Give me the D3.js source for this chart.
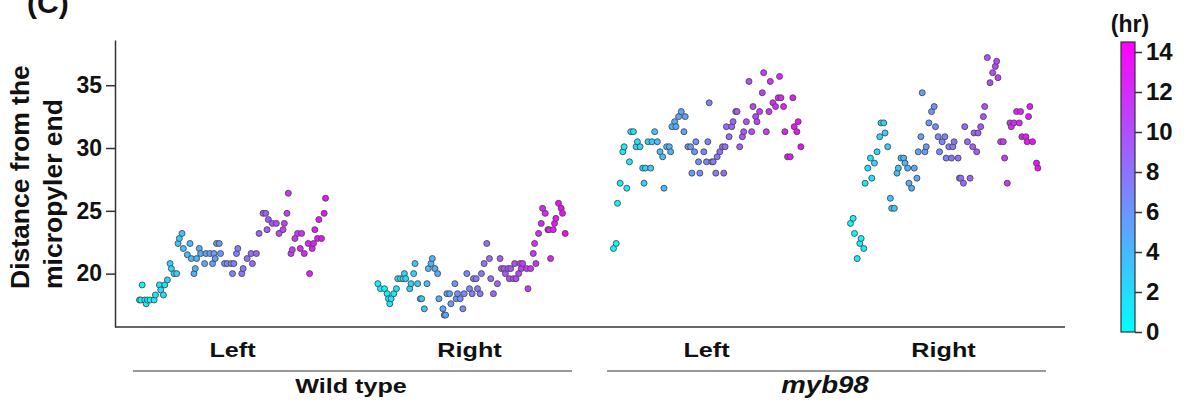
<!DOCTYPE html>
<html>
<head>
<meta charset="utf-8">
<script src="https://cdn.jsdelivr.net/npm/d3@7"></script>
<style>
body { margin: 0; background: #fff; }
svg text { font-family: "Liberation Sans", Arial, sans-serif; font-weight: bold; fill: #111; }
</style>
</head>
<body>
<svg id="chart" width="1194" height="404"></svg>
<script>
// categories on the x axis
var groups = ["wtLeft", "wtRight", "mybLeft", "mybRight"];
var sideLabels = ["Left", "Right", "Left", "Right"];
var genotypes = ["Wild type", "myb98"];
var yTicks = [20, 25, 30, 35];
var hrTicks = [0, 2, 4, 6, 8, 10, 12, 14];

// time (hr) and distance from the micropylar end, per group
var wtLeftTime = [0, 0.1, 0.2, 0.4, 0.5, 0.6, 0.8, 1.1, 1.2, 1.5, 1.6, 1.8, 1.9, 2.1, 2.3, 2.4, 2.6, 2.8, 2.9, 3.0,
	3.2, 3.3, 3.6, 3.8, 3.9, 4.1, 4.2, 4.3, 4.5, 4.6, 4.9, 5.0, 5.3, 5.5, 5.6, 5.7, 5.8, 6.0, 6.1, 6.4,
	6.6, 6.9, 7.0, 7.1, 7.3, 7.4, 7.7, 7.8, 8.1, 8.4, 8.5, 8.8, 9.0, 9.3, 9.5, 9.6, 9.7, 10.0, 10.3, 10.5,
	10.8, 10.9, 11.1, 11.2, 11.4, 11.5, 11.7, 11.9, 12.1, 12.2, 12.4, 12.7, 12.8, 13.0, 13.1, 13.2, 13.4, 13.5, 13.7, 13.9, 14.0];
var wtLeftDist = [17.9, 17.9, 19.1, 17.9, 17.6, 17.9, 17.9, 17.9, 18.3, 19.1, 18.7, 18.3, 19.1, 19.5, 20.8, 20.4, 20.0, 20.0, 22.4, 22.8,
	23.2, 22.0, 21.5, 22.4, 21.2, 20.0, 20.4, 21.2, 22.0, 21.6, 20.8, 21.6, 21.6, 20.8, 21.6, 21.2, 22.4, 22.4, 21.6, 20.8,
	20.8, 20.8, 20.0, 20.8, 21.6, 22.0, 20.0, 20.4, 21.2, 21.6, 20.8, 21.6, 23.2, 24.8, 24.8, 23.5, 24.3, 24.0, 24.0, 23.2,
	23.5, 24.0, 24.8, 26.4, 21.6, 21.9, 22.8, 23.2, 22.0, 23.2, 21.6, 22.4, 20.0, 22.0, 22.4, 23.5, 22.8, 24.3, 22.8, 24.8, 26.0];

var wtRightTime = [0.1, 0.3, 0.6, 0.8, 0.9, 1.0, 1.1, 1.3, 1.5, 1.6, 1.8, 2.0, 2.1, 2.2, 2.5, 2.6, 2.8, 2.9, 3.1, 3.3,
	3.4, 3.6, 3.8, 3.9, 4.1, 4.2, 4.4, 4.6, 4.7, 5.0, 5.1, 5.2, 5.3, 5.5, 5.6, 5.9, 6.0, 6.1, 6.3, 6.5,
	6.6, 6.8, 7.0, 7.2, 7.3, 7.5, 7.6, 7.8, 7.9, 8.1, 8.3, 8.5, 8.6, 8.8, 9.1, 9.3, 9.4, 9.6, 9.7, 9.9,
	10.0, 10.1, 10.3, 10.4, 10.5, 10.7, 10.8, 10.9, 11.0, 11.3, 11.4, 11.6, 11.8, 11.9, 12.0, 12.2, 12.4, 12.5, 12.7, 12.9,
	13.0, 13.1, 13.3, 13.4, 13.5, 13.7, 13.9, 14.0, 14.2];
var wtRightDist = [19.2, 18.8, 18.8, 18.4, 18.0, 17.6, 18.0, 18.4, 18.8, 19.6, 19.6, 19.6, 20.0, 19.6, 18.8, 19.2, 20.0, 20.8, 19.2, 18.0,
	18.0, 17.2, 19.2, 20.4, 20.8, 21.2, 20.4, 20.0, 18.0, 17.2, 16.7, 16.7, 18.4, 18.4, 17.6, 19.2, 18.0, 18.4, 18.0, 17.2,
	18.4, 20.0, 18.8, 18.4, 19.6, 19.6, 18.8, 18.4, 20.0, 20.8, 22.4, 21.2, 19.6, 18.4, 19.2, 21.2, 20.4, 20.4, 20.0, 20.4,
	19.6, 20.4, 19.6, 20.8, 19.6, 20.0, 20.8, 20.4, 20.8, 20.4, 18.8, 20.4, 21.6, 22.4, 20.8, 23.2, 24.0, 25.2, 24.8, 23.5,
	23.5, 21.2, 23.5, 24.0, 24.4, 25.6, 25.2, 24.8, 23.2];

var mybLeftTime = [0.0, 0.2, 0.3, 0.5, 0.7, 0.8, 1.0, 1.2, 1.3, 1.5, 1.7, 1.8, 2.0, 2.2, 2.3, 2.4, 2.6, 2.8, 2.9, 3.1,
	3.3, 3.5, 3.7, 3.8, 4.0, 4.2, 4.3, 4.4, 4.6, 4.7, 4.9, 5.1, 5.3, 5.4, 5.6, 5.8, 5.9, 6.1, 6.2, 6.4,
	6.5, 6.8, 7.0, 7.1, 7.2, 7.4, 7.5, 7.7, 7.8, 8.0, 8.2, 8.3, 8.4, 8.5, 8.7, 8.9, 9.0, 9.2, 9.3, 9.5,
	9.7, 9.8, 10.0, 10.2, 10.4, 10.5, 10.7, 10.8, 11.0, 11.2, 11.3, 11.5, 11.7, 11.8, 12.0, 12.2, 12.4, 12.5, 12.6, 12.8,
	12.9, 13.1, 13.3, 13.5, 13.6, 13.8, 13.9, 14.1];
var mybLeftDist = [22.0, 22.4, 25.6, 27.2, 29.7, 30.1, 26.8, 28.9, 31.3, 31.3, 30.1, 30.5, 30.1, 28.4, 27.2, 28.4, 30.5, 28.4, 30.5, 31.3,
	30.5, 29.7, 29.3, 26.8, 30.1, 30.1, 29.7, 31.7, 32.1, 31.7, 32.5, 32.9, 31.3, 32.5, 30.1, 30.1, 28.0, 29.7, 30.5, 28.9,
	28.0, 29.7, 28.9, 30.5, 33.6, 28.9, 28.9, 28.0, 29.3, 29.7, 30.1, 28.0, 30.1, 31.7, 30.9, 31.7, 32.1, 32.9, 32.9, 30.1,
	30.9, 31.3, 32.1, 35.3, 31.3, 33.3, 32.5, 32.1, 32.9, 34.4, 36.0, 31.3, 32.9, 35.3, 33.6, 33.3, 34.0, 35.7, 34.0, 33.3,
	31.3, 29.3, 29.3, 34.0, 31.7, 31.3, 32.1, 30.1];

var mybRightTime = [0.0, 0.2, 0.3, 0.5, 0.7, 0.8, 1.0, 1.1, 1.3, 1.5, 1.6, 1.8, 2.0, 2.2, 2.3, 2.5, 2.6, 2.8, 3.0, 3.1,
	3.3, 3.5, 3.6, 3.8, 4.0, 4.1, 4.3, 4.4, 4.6, 4.8, 5.0, 5.1, 5.3, 5.4, 5.6, 5.7, 5.9, 6.1, 6.3, 6.4,
	6.6, 6.7, 6.9, 7.1, 7.2, 7.4, 7.6, 7.7, 7.8, 8.1, 8.2, 8.3, 8.5, 8.6, 8.8, 9.0, 9.2, 9.3, 9.5, 9.6,
	9.8, 10.0, 10.1, 10.3, 10.5, 10.7, 10.9, 11.0, 11.1, 11.3, 11.5, 11.6, 11.8, 12.0, 12.1, 12.3, 12.5, 12.7, 12.8, 12.9,
	13.2, 13.3, 13.4, 13.5, 13.7, 14.0, 14.1];
var mybRightDist = [24.0, 24.4, 23.2, 21.2, 22.4, 22.8, 22.0, 27.2, 28.4, 29.2, 27.6, 28.8, 29.7, 30.9, 32.0, 32.0, 31.2, 30.1, 26.0, 25.2,
	25.2, 28.0, 28.4, 29.2, 29.2, 28.8, 28.4, 27.2, 26.8, 28.4, 27.6, 29.7, 30.9, 34.4, 29.7, 30.1, 32.0, 32.9, 33.3, 31.7,
	30.9, 29.7, 30.5, 30.9, 29.2, 30.1, 29.2, 30.1, 30.5, 29.2, 27.6, 27.6, 27.2, 31.7, 30.5, 27.6, 30.1, 31.2, 29.7, 31.2,
	31.7, 32.5, 33.3, 37.2, 35.2, 36.0, 36.5, 36.9, 35.6, 30.5, 30.5, 29.2, 27.2, 32.0, 31.7, 32.0, 32.9, 32.0, 32.9, 30.9,
	30.9, 30.5, 32.5, 33.3, 30.5, 28.8, 28.4];

var series = [
	{ group: "wtLeft", time: wtLeftTime, dist: wtLeftDist },
	{ group: "wtRight", time: wtRightTime, dist: wtRightDist },
	{ group: "mybLeft", time: mybLeftTime, dist: mybLeftDist },
	{ group: "mybRight", time: mybRightTime, dist: mybRightDist }
];

var svg = d3.select("#chart");
svg.append("rect").attr("width", 1194).attr("height", 404).attr("fill", "#fff");

var axisColor = "#333";
var plotBottom = 327, plotTop = 40, plotLeft = 115, plotRight = 1065;

var y = d3.scaleLinear().domain([15.75, 38.6]).range([plotBottom, plotTop]);
var xGroup = d3.scaleBand().domain(groups).range([114, 1062]);
var xTime = d3.scaleLinear().domain([0, 14]).range([-93, 93]);
var hrMax = 14.5;
var color = d3.scaleLinear().domain([0, hrMax]).range(["#00ffff", "#ff00ff"]);

// panel letter
svg.append("text").attr("x", 27).attr("y", 13).style("font-size", "30px").text("(C)");

// y axis
var yAxis = svg.append("g").attr("transform", "translate(" + plotLeft + ",0)")
	.call(d3.axisLeft(y).tickValues(yTicks).tickSize(9).tickSizeOuter(0).tickPadding(4));
yAxis.select(".domain").attr("stroke", axisColor).attr("stroke-width", 1.5);
yAxis.selectAll(".tick line").attr("stroke", axisColor).attr("stroke-width", 1.5);
yAxis.selectAll(".tick text").attr("fill", "#111").style("font-size", "23px")
	.style("font-family", "'Liberation Sans', Arial, sans-serif").style("font-weight", "bold");

// x axis line (no ticks)
svg.append("line").attr("x1", plotLeft).attr("x2", plotRight).attr("y1", plotBottom).attr("y2", plotBottom)
	.attr("stroke", axisColor).attr("stroke-width", 1.5);

// y label, two lines
var yLabel = ["Distance from the", "micropyler end"];
svg.selectAll("text.ylab").data(yLabel).enter().append("text")
	.attr("class", "ylab")
	.attr("transform", function(d, i) { return "translate(" + (29 + i * 33) + ",289) rotate(-90)"; })
	.attr("text-anchor", "start")
	.style("font-size", "26.5px")
	.text(function(d) { return d; });

// points
series.forEach(function(s) {
	var cx = xGroup(s.group) + xGroup.bandwidth() / 2;
	var pts = s.time.map(function(t, i) { return { t: t, d: s.dist[i] }; });
	svg.append("g").attr("class", "pts_" + s.group)
		.selectAll("circle").data(pts).enter().append("circle")
		.attr("cx", function(p) { return cx + xTime(p.t); })
		.attr("cy", function(p) { return y(p.d); })
		.attr("r", 3)
		.attr("fill", function(p) { return color(p.t); })
		.attr("stroke", "#4a4a4a")
		.attr("stroke-width", 0.9);
});

// Left / Right labels
groups.forEach(function(g, i) {
	var cx = xGroup(g) + xGroup.bandwidth() / 2;
	svg.append("text").attr("transform", "translate(" + cx + ",357) scale(1.2,1)")
		.attr("text-anchor", "middle").style("font-size", "21px").text(sideLabels[i]);
});

// genotype brackets
genotypes.forEach(function(gt, i) {
	var x0 = xGroup(groups[i * 2]);
	var x1 = xGroup(groups[i * 2 + 1]) + xGroup.bandwidth();
	svg.append("line").attr("x1", x0 + 19).attr("x2", x1 - 16).attr("y1", 371).attr("y2", 371)
		.attr("stroke", axisColor).attr("stroke-width", 1.2);
	var t = svg.append("text").attr("transform", "translate(" + ((x0 + x1) / 2) + ",393) scale(1.2,1)")
		.attr("text-anchor", "middle").style("font-size", i === 1 ? "23px" : "21px").text(gt);
	if (i === 1) t.style("font-style", "italic");
});

// colour bar
var cbX = 1121, cbW = 14;
var cScale = d3.scaleLinear().domain([0, hrMax]).range([332, 42]);
var grad = svg.append("defs").append("linearGradient").attr("id", "cbgrad")
	.attr("x1", 0).attr("y1", 1).attr("x2", 0).attr("y2", 0);
grad.append("stop").attr("offset", "0%").attr("stop-color", color(0));
grad.append("stop").attr("offset", "100%").attr("stop-color", color(hrMax));
svg.append("rect").attr("x", cbX).attr("y", cScale(hrMax)).attr("width", cbW)
	.attr("height", cScale(0) - cScale(hrMax)).attr("fill", "url(#cbgrad)")
	.attr("stroke", axisColor).attr("stroke-width", 1.2);
var cAxis = svg.append("g").attr("transform", "translate(" + (cbX + cbW) + ",0)")
	.call(d3.axisRight(cScale).tickValues(hrTicks).tickSize(7).tickPadding(4));
cAxis.select(".domain").remove();
cAxis.selectAll(".tick line").attr("stroke", axisColor).attr("stroke-width", 1.5);
cAxis.selectAll(".tick text").attr("fill", "#111").style("font-size", "24px")
	.style("font-family", "'Liberation Sans', Arial, sans-serif").style("font-weight", "bold");
svg.append("text").attr("x", cbX + cbW / 2 + 2).attr("y", 32).attr("text-anchor", "middle")
	.style("font-size", "23px").text("(hr)");
</script>
</body>
</html>
